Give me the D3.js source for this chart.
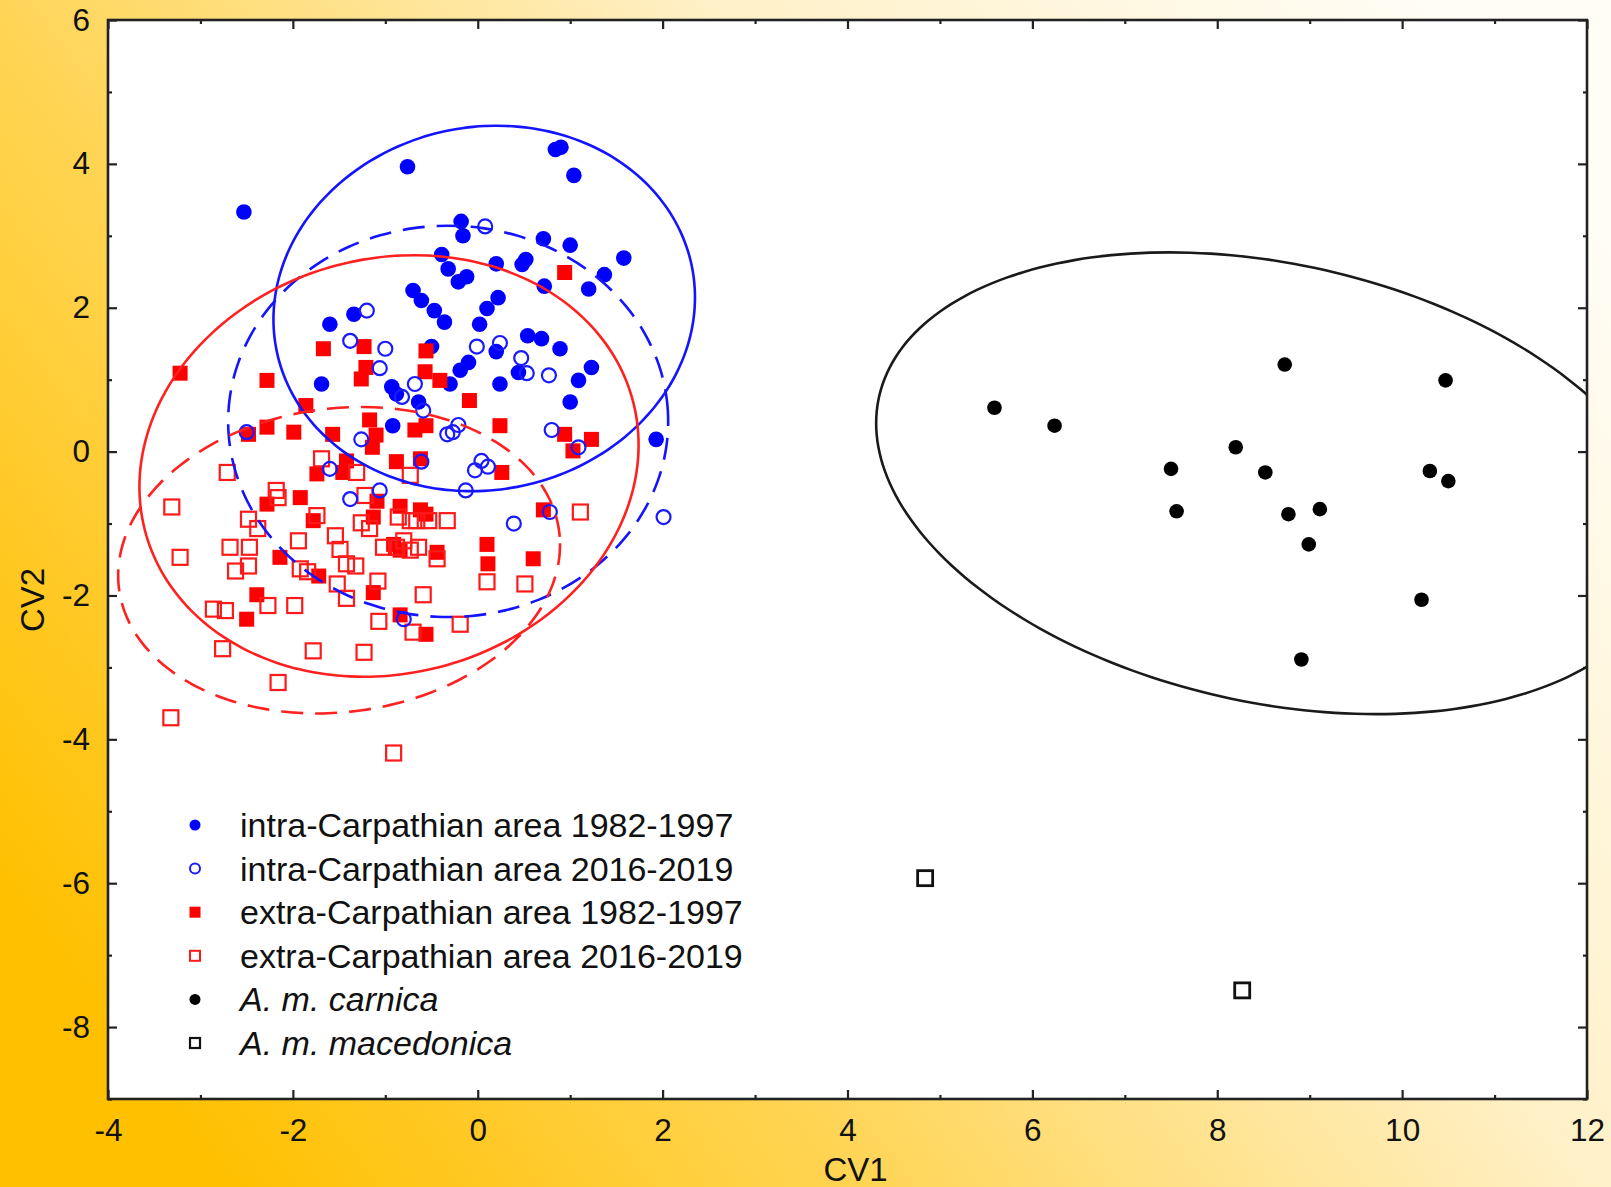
<!DOCTYPE html>
<html>
<head>
<meta charset="utf-8">
<script src="https://cdn.jsdelivr.net/npm/d3@7"></script>
<style>
  html, body { margin: 0; padding: 0; }
  body { width: 1611px; height: 1187px; overflow: hidden; }
  text { font-family: "Liberation Sans", Arial, sans-serif; fill: #111; }
</style>
</head>
<body>
<div class="container"></div>
<script>
// CV1 / CV2 scores
var intraOld = [
  [-2.53,3.33],[-0.76,3.96],[0.84,4.20],[0.90,4.23],[1.04,3.84],[-0.18,3.20],[-0.16,3.00],
  [0.71,2.96],[1.00,2.87],[1.58,2.69],[1.37,2.46],[1.20,2.26],[0.72,2.30],[0.48,2.60],
  [0.52,2.67],[0.20,2.61],[-0.39,2.74],[-0.32,2.54],[-0.21,2.36],[-0.12,2.43],[0.22,2.14],
  [0.10,1.99],[0.02,1.77],[-0.70,2.24],[-0.61,2.10],[-0.47,1.96],[-0.36,1.80],[0.54,1.61],
  [0.69,1.57],[0.89,1.43],[0.20,1.39],[-0.19,1.13],[-0.10,1.24],[0.44,1.10],[0.24,0.94],
  [1.23,1.17],[1.09,0.99],[1.00,0.69],[-0.30,0.94],[-0.50,1.46],[1.93,0.17],[-0.64,0.69],
  [-1.60,1.77],[-1.34,1.91],[-1.69,0.94],[-0.93,0.90],[-0.88,0.80],[-0.92,0.36]
];
var intraNew = [
  [0.08,3.13],[-0.01,1.46],[0.24,1.51],[0.47,1.30],[0.53,1.09],[0.77,1.06],[0.80,0.30],
  [1.09,0.06],[-0.68,0.94],[-0.82,0.76],[-0.59,0.57],[-0.33,0.24],[-0.27,0.27],[-0.21,0.37],
  [-1.20,1.96],[-1.38,1.54],[-1.00,1.43],[-1.06,1.16],[-2.50,0.27],[-1.26,0.17],[-0.03,-0.26],
  [0.04,-0.13],[0.11,-0.21],[-0.13,-0.54],[0.39,-1.00],[-1.60,-0.24],[-1.06,-0.54],
  [-1.38,-0.66],[-0.61,-0.14],[0.78,-0.84],[-0.80,-2.33],[2.01,-0.91]
];
var extraOld = [
  [0.94,2.49],[-0.56,1.40],[-0.57,1.11],[-0.41,0.99],[-0.09,0.71],[0.24,0.36],[-0.68,0.30],
  [-0.56,0.36],[0.94,0.24],[1.23,0.17],[-1.67,1.43],[-1.23,1.46],[-1.21,1.17],[-1.26,1.01],
  [-3.22,1.09],[-2.28,0.99],[-1.86,0.64],[-2.28,0.34],[-1.99,0.27],[-2.48,0.24],[-1.57,0.24],
  [-1.17,0.44],[-1.10,0.23],[-1.14,0.06],[-0.88,-0.14],[-0.62,-0.10],[0.26,-0.29],
  [-1.42,-0.13],[-1.46,-0.29],[-1.74,-0.31],[-1.92,-0.64],[-2.28,-0.73],[-1.09,-0.69],
  [-0.84,-0.76],[-0.62,-0.81],[-0.56,-0.87],[-1.78,-0.96],[-1.13,-0.91],[-2.14,-1.47],
  [-1.72,-1.73],[-2.39,-1.99],[-2.50,-2.33],[-0.91,-1.29],[-0.84,-1.37],[-1.13,-1.96],
  [-0.84,-2.27],[-0.56,-2.54],[0.10,-1.29],[0.11,-1.56],[0.60,-1.49],[-0.44,-1.40],
  [0.71,-0.81],[1.03,0.01]
];
var extraNew = [
  [-2.71,-0.29],[-3.31,-0.77],[-3.22,-1.47],[-2.76,-2.74],[-3.32,-3.70],[-2.16,-3.21],
  [-1.78,-2.77],[-1.23,-2.79],[-0.91,-4.19],[-2.86,-2.19],[-2.73,-2.21],[-2.27,-2.14],
  [-1.98,-2.14],[-1.42,-2.04],[-1.07,-2.36],[-2.48,-0.94],[-2.38,-1.07],[-2.18,-0.54],
  [-2.16,-0.64],[-2.68,-1.33],[-2.47,-1.33],[-2.62,-1.66],[-2.48,-1.59],[-1.94,-1.24],
  [-1.92,-1.63],[-1.84,-1.67],[-1.74,-0.89],[-1.69,-0.10],[-1.54,-1.17],[-1.49,-1.36],
  [-1.42,-1.56],[-1.32,-1.59],[-1.52,-1.84],[-1.31,-0.29],[-1.22,-0.61],[-1.26,-0.99],
  [-1.17,-1.07],[-1.08,-1.80],[-1.02,-1.33],[-0.88,-1.33],[-0.86,-0.91],[-0.73,-0.96],
  [-0.66,-0.96],[-0.53,-0.96],[-0.33,-0.96],[-0.80,-1.24],[-0.73,-1.37],[-0.73,-0.33],
  [-0.59,-1.99],[-0.70,-2.51],[-0.19,-2.40],[0.10,-1.81],[0.51,-1.84],[1.11,-0.84],
  [-0.64,-1.33],[-0.44,-1.49]
];
var carnica = [
  [5.59,0.61],[6.24,0.36],[8.73,1.21],[10.47,0.99],[8.20,0.06],[7.50,-0.24],[8.52,-0.29],
  [10.30,-0.27],[10.50,-0.41],[7.56,-0.83],[8.77,-0.87],[9.11,-0.80],[8.99,-1.29],
  [10.21,-2.06],[8.91,-2.89]
];
var macedonica = [[4.84,-5.93],[8.27,-7.49]];

// confidence ellipses: centre x, centre y, half-width x, half-height y, correlation
var ellipseIntraOld  = [0.07, 1.99, 2.28, 2.54, 0.06];
var ellipseIntraNew  = [-0.32, 0.42, 2.38, 2.72, 0.0];
var ellipseExtraOld  = [-0.96, -0.20, 2.70, 2.93, 0.10];
var ellipseExtraNew  = [-1.50, -1.51, 2.39, 2.13, 0.10];
var ellipseCarnica   = [8.60, -0.44, 4.29, 3.21, -0.26];

var legendLabels = [
  'intra-Carpathian area 1982-1997',
  'intra-Carpathian area 2016-2019',
  'extra-Carpathian area 1982-1997',
  'extra-Carpathian area 2016-2019',
  'A. m. carnica',
  'A. m. macedonica'
];
var xTicks = [-4, -2, 0, 2, 4, 6, 8, 10, 12];
var yTicks = [-8, -6, -4, -2, 0, 2, 4, 6];

var width = 1611;
var height = 1187;
var plotLeft = 108, plotRight = 1587, plotTop = 20, plotBottom = 1099;

var translate = function(x, y) {
  return 'translate(' + x + ',' + y + ')';
};

var plain = function(d) { return String(d); };

var draw = function() {
  var svg = d3.select('.container').append('svg')
    .attr('width', width)
    .attr('height', height);

  var defs = svg.append('defs');
  var grad = defs.append('linearGradient')
    .attr('id', 'bg')
    .attr('x1', 0).attr('y1', 0.75)
    .attr('x2', 1).attr('y2', 0.2);
  grad.append('stop').attr('offset', 0).attr('stop-color', '#ffc000');
  grad.append('stop').attr('offset', 0.3).attr('stop-color', '#ffd452');
  grad.append('stop').attr('offset', 0.65).attr('stop-color', '#fff0c6');
  grad.append('stop').attr('offset', 1).attr('stop-color', '#fffdf6');

  defs.append('clipPath').attr('id', 'plotClip')
    .append('rect')
    .attr('x', plotLeft).attr('y', plotTop)
    .attr('width', plotRight - plotLeft).attr('height', plotBottom - plotTop);

  svg.append('rect')
    .attr('width', width).attr('height', height)
    .attr('fill', 'url(#bg)');

  svg.append('rect')
    .attr('x', plotLeft).attr('y', plotTop)
    .attr('width', plotRight - plotLeft).attr('height', plotBottom - plotTop)
    .attr('fill', '#fff');

  var x = d3.scaleLinear().domain([-4, 12]).range([plotLeft, plotRight]);
  var y = d3.scaleLinear().domain([-9, 6]).range([plotBottom, plotTop]);

  // axes, ticks pointing inwards on all four sides
  var minorX = d3.range(-3, 12, 2);
  var minorY = d3.range(-9, 6, 2);

  svg.append('g').attr('transform', translate(0, plotBottom))
    .call(d3.axisBottom(x).tickValues(xTicks).tickSize(-9).tickPadding(20).tickFormat(plain));
  svg.append('g').attr('transform', translate(0, plotBottom))
    .call(d3.axisBottom(x).tickValues(minorX).tickSize(-4).tickFormat(''));
  svg.append('g').attr('transform', translate(0, plotTop))
    .call(d3.axisTop(x).tickValues(xTicks).tickSize(-9).tickFormat(''));
  svg.append('g').attr('transform', translate(0, plotTop))
    .call(d3.axisTop(x).tickValues(minorX).tickSize(-4).tickFormat(''));

  svg.append('g').attr('transform', translate(plotLeft, 0))
    .call(d3.axisLeft(y).tickValues(yTicks).tickSize(-9).tickPadding(18).tickFormat(plain));
  svg.append('g').attr('transform', translate(plotLeft, 0))
    .call(d3.axisLeft(y).tickValues(minorY).tickSize(-4).tickFormat(''));
  svg.append('g').attr('transform', translate(plotRight, 0))
    .call(d3.axisRight(y).tickValues(yTicks).tickSize(-9).tickFormat(''));
  svg.append('g').attr('transform', translate(plotRight, 0))
    .call(d3.axisRight(y).tickValues(minorY).tickSize(-4).tickFormat(''));

  svg.selectAll('.domain').remove();
  svg.selectAll('.tick line').attr('stroke', '#222').attr('stroke-width', 2.2);
  svg.selectAll('.tick text')
    .attr('font-size', 31.5)
    .attr('font-family', '"Liberation Sans", Arial, sans-serif')
    .attr('fill', '#111');

  svg.append('text')
    .attr('x', (plotLeft + plotRight) / 2 + 8).attr('y', 1181)
    .attr('text-anchor', 'middle')
    .attr('font-size', 33)
    .text('CV1');

  svg.append('text')
    .attr('transform', translate(44, 600) + ' rotate(-90)')
    .attr('text-anchor', 'middle')
    .attr('font-size', 33)
    .text('CV2');

  // points
  var pts = svg.append('g').attr('clip-path', 'url(#plotClip)');

  pts.selectAll('.intraOld').data(intraOld).enter().append('circle')
    .attr('cx', function(d) { return x(d[0]); })
    .attr('cy', function(d) { return y(d[1]); })
    .attr('r', 7.8)
    .attr('fill', '#0000ff');

  pts.selectAll('.extraOld').data(extraOld).enter().append('rect')
    .attr('x', function(d) { return x(d[0]) - 7.5; })
    .attr('y', function(d) { return y(d[1]) - 7.5; })
    .attr('width', 15).attr('height', 15)
    .attr('fill', '#ff0000');

  pts.selectAll('.extraNew').data(extraNew).enter().append('rect')
    .attr('x', function(d) { return x(d[0]) - 7.5; })
    .attr('y', function(d) { return y(d[1]) - 7.5; })
    .attr('width', 15).attr('height', 15)
    .attr('fill', 'none')
    .attr('stroke', '#ff1a1a')
    .attr('stroke-width', 2.2);

  pts.selectAll('.intraNew').data(intraNew).enter().append('circle')
    .attr('cx', function(d) { return x(d[0]); })
    .attr('cy', function(d) { return y(d[1]); })
    .attr('r', 7)
    .attr('fill', 'none')
    .attr('stroke', '#1a1aff')
    .attr('stroke-width', 2.2);

  pts.selectAll('.carnica').data(carnica).enter().append('circle')
    .attr('cx', function(d) { return x(d[0]); })
    .attr('cy', function(d) { return y(d[1]); })
    .attr('r', 7.3)
    .attr('fill', '#000');

  pts.selectAll('.macedonica').data(macedonica).enter().append('rect')
    .attr('x', function(d) { return x(d[0]) - 7.5; })
    .attr('y', function(d) { return y(d[1]) - 7.5; })
    .attr('width', 15).attr('height', 15)
    .attr('fill', 'none')
    .attr('stroke', '#111')
    .attr('stroke-width', 2.8);

  // ellipses
  var angles = d3.range(0, 360, 3);
  var ellipsePath = function(e) {
    var k = Math.sqrt(1 - e[4] * e[4]);
    return d3.line()
      .x(function(a) { return x(e[0] + e[2] * Math.cos(a * Math.PI / 180)); })
      .y(function(a) {
        var t = a * Math.PI / 180;
        return y(e[1] + e[3] * (e[4] * Math.cos(t) + k * Math.sin(t)));
      })
      .curve(d3.curveCardinalClosed)(angles);
  };

  var ellipses = [
    { p: ellipseIntraOld, c: '#1414ff', dash: null },
    { p: ellipseIntraNew, c: '#1414ff', dash: '22,12' },
    { p: ellipseExtraOld, c: '#ff2020', dash: null },
    { p: ellipseExtraNew, c: '#ff2020', dash: '22,12' },
    { p: ellipseCarnica, c: '#1a1a1a', dash: null }
  ];

  var eg = svg.append('g').attr('clip-path', 'url(#plotClip)');
  eg.selectAll('path').data(ellipses).enter().append('path')
    .attr('d', function(d) { return ellipsePath(d.p); })
    .attr('fill', 'none')
    .attr('stroke', function(d) { return d.c; })
    .attr('stroke-width', 2.6)
    .attr('stroke-dasharray', function(d) { return d.dash; });

  // frame
  svg.append('rect')
    .attr('x', plotLeft).attr('y', plotTop)
    .attr('width', plotRight - plotLeft).attr('height', plotBottom - plotTop)
    .attr('fill', 'none')
    .attr('stroke', '#222')
    .attr('stroke-width', 2.6);

  // legend
  var legend = svg.append('g').attr('transform', translate(195, 825));
  var rows = legend.selectAll('g').data(legendLabels).enter().append('g')
    .attr('transform', function(d, i) { return translate(0, i * 43.6); });

  rows.each(function(d, i) {
    var g = d3.select(this);
    if (i === 0) g.append('circle').attr('r', 5.5).attr('fill', '#0000ff');
    if (i === 1) g.append('circle').attr('r', 5).attr('fill', 'none').attr('stroke', '#1a1aff').attr('stroke-width', 2);
    if (i === 2) g.append('rect').attr('x', -5.5).attr('y', -5.5).attr('width', 11).attr('height', 11).attr('fill', '#ff0000');
    if (i === 3) g.append('rect').attr('x', -5).attr('y', -5).attr('width', 10).attr('height', 10).attr('fill', 'none').attr('stroke', '#ff1a1a').attr('stroke-width', 2);
    if (i === 4) g.append('circle').attr('r', 5.5).attr('fill', '#000');
    if (i === 5) g.append('rect').attr('x', -5).attr('y', -5).attr('width', 10).attr('height', 10).attr('fill', 'none').attr('stroke', '#111').attr('stroke-width', 2.2);
    g.append('text')
      .attr('x', 45).attr('y', 12)
      .attr('font-size', 34)
      .attr('font-style', i >= 4 ? 'italic' : 'normal')
      .text(d);
  });
};

window.onload = draw;
</script>
</body>
</html>
